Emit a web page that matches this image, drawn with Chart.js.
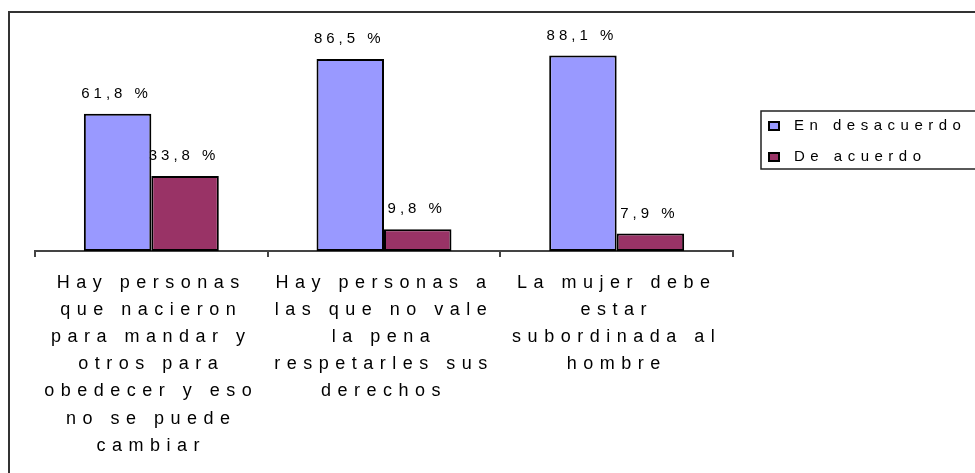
<!DOCTYPE html>
<html>
<head>
<meta charset="utf-8">
<script src="https://cdn.jsdelivr.net/npm/chart.js@4.4.1/dist/chart.umd.min.js"></script>
<style>
  html, body { margin: 0; padding: 0; background: #fff; }
  #wrap { position: relative; width: 975px; height: 473px; }
</style>
</head>
<body>
<div id="wrap"><canvas id="chart"></canvas></div>
<script>
// categories, one line per entry (wrapped as in the original)
const categories = [
  ['Hay personas', 'que nacieron', 'para mandar y', 'otros para', 'obedecer y eso', 'no se puede', 'cambiar'],
  ['Hay personas a', 'las que no vale', 'la pena', 'respetarles sus', 'derechos'],
  ['La mujer debe', 'estar', 'subordinada al', 'hombre']
];
const seriesNames = ['En desacuerdo', 'De acuerdo'];
const enDesacuerdo = [61.8, 86.5, 88.1];
const deAcuerdo = [33.8, 9.8, 7.9];

const colors = ['#9999ff', '#993366'];
const FONT = '"Liberation Sans", Arial, sans-serif';
const TICK_SPACING = '6.5px';

const fmt = v => v.toFixed(1).replace('.', ',') + ' %';

const extras = {
  id: 'extras',
  beforeUpdate(chart) { chart.ctx.letterSpacing = TICK_SPACING; },
  beforeDraw(chart) {
    const c = chart.ctx;
    c.letterSpacing = TICK_SPACING;
    c.save();
    c.strokeStyle = '#333';
    c.lineWidth = 2;
    c.strokeRect(9, 12, 1100, 600);
    c.restore();
  },
  // value labels go under the bars (bar outline overlaps them like the original)
  beforeDatasetsDraw(chart) {
    const c = chart.ctx;
    c.save();
    c.font = '15px ' + FONT;
    c.letterSpacing = '4px';
    c.fillStyle = '#000';
    c.textAlign = 'center';
    c.textBaseline = 'middle';
    chart.data.datasets.forEach((ds, i) => {
      chart.getDatasetMeta(i).data.forEach((bar, j) => {
        c.fillText(fmt(ds.data[j]), bar.x - 1, bar.y - 20);
      });
    });
    c.restore();
  },
  afterDraw(chart) {
    const c = chart.ctx;
    c.save();
    c.strokeStyle = '#222';
    c.lineWidth = 1.5;
    c.strokeRect(761, 111, 400, 58);
    c.font = '15px ' + FONT;
    c.letterSpacing = '5.5px';
    c.textBaseline = 'middle';
    c.textAlign = 'left';
    chart.data.datasets.forEach((ds, i) => {
      const y = 126 + i * 31;
      c.fillStyle = ds.backgroundColor;
      c.fillRect(769, y - 4, 10, 8);
      c.strokeStyle = '#000';
      c.lineWidth = 2;
      c.strokeRect(769, y - 4, 10, 8);
      c.fillStyle = '#000';
      c.fillText(ds.label, 794, y);
    });
    c.restore();
  }
};

new Chart(document.getElementById('chart'), {
  type: 'bar',
  data: {
    labels: categories,
    datasets: [
      { label: seriesNames[0], data: enDesacuerdo, backgroundColor: colors[0] },
      { label: seriesNames[1], data: deAcuerdo, backgroundColor: colors[1] }
    ]
  },
  options: {
    responsive: true,
    maintainAspectRatio: false,
    animation: false,
    layout: { padding: { left: 35, right: 242, top: 29, bottom: 1.6 } },
    datasets: {
      bar: {
        borderColor: '#000',
        borderWidth: 2,
        borderSkipped: false,
        categoryPercentage: 0.58,
        barPercentage: 1
      }
    },
    plugins: {
      legend: { display: false },
      tooltip: { enabled: false }
    },
    scales: {
      x: {
        grid: { display: true, drawOnChartArea: false, drawTicks: true, tickLength: 6, color: '#444', lineWidth: 2 },
        border: { display: true, color: '#444', width: 2 },
        ticks: {
          maxRotation: 0,
          autoSkip: false,
          padding: 12,
          color: '#000',
          font: { family: FONT, size: 18, lineHeight: 1.511 }
        }
      },
      y: { display: false, min: 0, max: 100 }
    }
  },
  plugins: [extras]
});
</script>
</body>
</html>
